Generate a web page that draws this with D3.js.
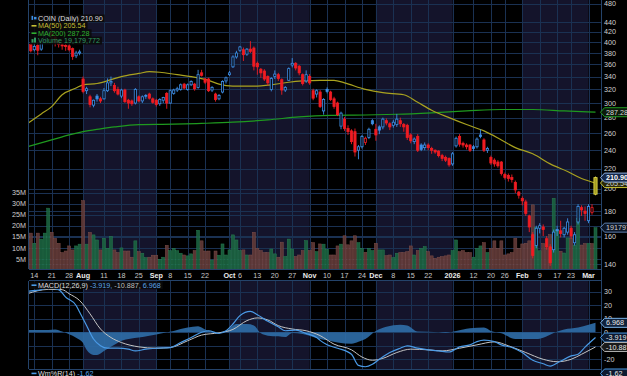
<!DOCTYPE html>
<html>
<head>
<meta charset="utf-8">
<script src="https://cdn.jsdelivr.net/npm/d3@7"></script>
<style>
  body { margin: 0; background: #000; }
  svg { display: block; font-family: "Liberation Sans", Arial, sans-serif; }
</style>
</head>
<body>
<div id="chart"></div>
<script>
const width = 627
const height = 376

// trading calendar shown on the chart
const firstDay = "2025-07-10"
const lastDay = "2026-03-04"
const holidays = ["2025-09-01", "2025-11-27", "2025-12-25", "2026-01-01", "2026-01-19", "2026-02-16"]

// COIN daily candles, one value per trading day, grouped by week
const opens = [
  380, 396,
  386, 394, 387, 403, 418,   418, 410, 402, 395, 394,   393, 388, 375, 380, 336,
  318, 309, 297, 310, 306,   306, 318, 330, 326, 320,   310, 319, 304, 303, 300,
  309, 303, 311, 313, 306,   304, 299, 304, 314,        300, 314, 319, 320, 328,
  320, 327, 328, 323, 346,   336, 336, 319, 313, 306,   316, 333, 343, 356, 373,
  385, 386, 378, 387, 389,   362, 352, 349, 340, 320,   340, 343, 335, 319, 334,
  359, 362, 357, 343, 333,   340, 318, 313, 316, 289,   320, 316, 306, 300, 269,
  278, 266, 263, 262, 240,   244, 249, 255, 276,        265, 268, 268, 276, 272,
  270, 271, 276, 271, 270,   258, 250, 256, 246, 243,   246, 242, 240, 239,
  234, 232, 231, 225,        245, 256, 248, 246, 246,   244, 244, 258, 252, 240,
  232, 229, 227, 227,        214, 213, 211, 206, 197,   191, 188, 176, 161, 153,
  166, 167, 158, 152, 150,   165, 164, 161, 163,        166, 155, 171, 183, 180,
  172, 179, 195
]
const highs = [
  395, 398,
  398, 400, 405, 420, 444,   425, 413, 404, 398, 397,   396, 390, 384, 386, 340,
  324, 312, 305, 313, 309,   322, 337, 340, 330, 324,   321, 321, 306, 305, 322,
  311, 311, 313, 315, 308,   306, 307, 309, 316,        320, 321, 324, 329, 330,
  329, 334, 330, 351, 351,   338, 338, 325, 315, 313,   334, 340, 349, 376, 384,
  393, 390, 389, 402, 392,   365, 354, 352, 342, 339,   350, 346, 337, 325, 355,
  371, 364, 359, 345, 350,   344, 321, 320, 319, 307,   323, 318, 309, 302, 288,
  281, 270, 265, 266, 246,   258, 256, 267, 278,        272, 270, 280, 279, 274,
  277, 285, 280, 273, 272,   260, 255, 259, 248, 249,   248, 244, 241, 240,
  236, 234, 232, 238,        256, 259, 250, 248, 247,   246, 255, 265, 254, 244,
  234, 231, 229, 228,        216, 215, 214, 208, 198,   193, 190, 177, 163, 168,
  170, 169, 160, 154, 165,   168, 172, 167, 174,        168, 163, 186, 185, 184,
  186, 186, 212
]
const lows = [
  372, 381,
  383, 376, 384, 400, 410,   405, 392, 390, 386, 384,   383, 368, 371, 376, 314,
  313, 294, 294, 302, 300,   305, 316, 325, 315, 311,   307, 300, 292, 296, 298,
  301, 300, 306, 305, 299,   295, 296, 300, 292,        299, 312, 316, 318, 320,
  318, 325, 318, 321, 340,   328, 316, 316, 302, 304,   314, 329, 341, 354, 370,
  382, 366, 375, 380, 350,   343, 338, 333, 326, 317,   336, 333, 312, 316, 333,
  355, 350, 342, 326, 330,   327, 304, 308, 293, 284,   314, 303, 292, 282, 265,
  263, 258, 247, 233, 230,   242, 246, 253, 270,        251, 259, 265, 270, 264,
  267, 268, 268, 262, 252,   248, 247, 238, 239, 240,   240, 236, 236, 232,
  228, 227, 222, 223,        243, 244, 243, 241, 238,   239, 242, 254, 238, 237,
  224, 222, 221, 213,        209, 207, 206, 196, 191,   185, 176, 163, 144, 151,
  162, 160, 150, 139, 148,   160, 159, 159, 161,        158, 153, 169, 176, 172,
  170, 177, 194
]
const closes = [
  392, 384,
  392, 385, 402, 414, 420,   412, 400, 396, 393, 392,   386, 374, 380, 382, 317,
  321, 298, 304, 306, 303,   318, 330, 332, 318, 313,   319, 302, 300, 299, 320,
  303, 309, 310, 307, 301,   298, 305, 308, 300,        318, 319, 321, 327, 322,
  327, 332, 321, 343, 342,   331, 318, 323, 305, 311,   332, 338, 346, 373, 380,
  391, 377, 387, 383, 357,   356, 346, 336, 330, 337,   344, 337, 319, 323, 353,
  362, 354, 346, 329, 343,   330, 307, 318, 295, 305,   317, 305, 295, 284, 286,
  266, 262, 250, 238, 244,   256, 254, 265, 272,        258, 264, 278, 273, 268,
  274, 278, 272, 268, 255,   251, 253, 240, 241, 246,   243, 240, 238, 234,
  231, 229, 224, 236,        254, 247, 246, 244, 240,   242, 253, 256, 240, 242,
  226, 225, 223, 215,        211, 210, 209, 199, 194,   189, 178, 167, 146, 166,
  168, 165, 152, 141, 163,   164, 162, 166, 171,        160, 161, 184, 181, 178,
  184, 183, 210.9
]
// volume in millions of shares
const volumes = [
  17, 16.7,
  12.1, 16.7, 14, 16.7, 28,     17.1, 14.4, 12.1, 7.9, 8.6,   10.9, 9.1, 10.9, 11.7, 31.4,
  11.7, 17, 15.9, 13.6, 9.1,    14.4, 9.8, 15.2, 9.1, 7.9,    10, 8.6, 8.6, 5.8, 13.2,
  8.3, 7.6, 5.6, 5.8, 6.7,      6.7, 4.8, 5.8, 11.2,          8.8, 9.8, 8.8, 7.6, 6.8,
  6.4, 7.3, 8.8, 18, 13.2,      8.6, 8.6, 4.5, 8.6, 6.7,      11.8, 6.8, 9.1, 15.9, 13.6,
  8.8, 9.1, 6.8, 6.8, 17.1,     9.8, 8.8, 7.9, 7.9, 9.5,      7.3, 5.8, 12.6, 6.1, 14,
  9.5, 6.1, 6.8, 8.8, 13.3,     8.8, 12.4, 8.3, 11.8, 11.7,   9.4, 6.8, 6.8, 10.9, 11.7,
  15.5, 11.4, 13.2, 15.5, 12.4, 9.8, 8, 9.8, 8.8,             12.1, 9.1, 9.1, 6.5, 6.8,
  5.6, 7.6, 7.9, 7.9, 8.3,      10.9, 6.8, 8.8, 9.8, 10.6,    8.3, 6.4, 5.3, 5.8,
  6.1, 6.4, 6.8, 8.8,           13.6, 8.3, 8.8, 7.9, 7.9,     5.8, 9.8, 10.9, 12.4, 7.9,
  9.8, 13.2, 9.8, 13.2,         6.8, 7.3, 7.9, 14.4, 9.8,     11.8, 12.1, 13.2, 29.5, 19.3,
  8.7, 12, 10, 16, 32.5,        18, 8.5, 7.7, 14.5,           14.5, 11.3, 23.4, 11.3, 12,
  12, 12, 19.18
]

// moving averages and MACD, read at points along the lines
const ma50 = [
  ["2025-07-10", 272], ["2025-07-16", 285], ["2025-07-21", 295], ["2025-07-24", 312], ["2025-07-30", 322],
  ["2025-08-01", 327], ["2025-08-07", 329], ["2025-08-13", 335], ["2025-08-18", 340], ["2025-08-25", 345],
  ["2025-08-28", 348], ["2025-09-03", 347], ["2025-09-10", 343], ["2025-09-16", 340], ["2025-09-23", 334],
  ["2025-09-26", 328], ["2025-10-02", 325], ["2025-10-10", 325], ["2025-10-17", 327], ["2025-10-24", 331],
  ["2025-10-30", 333], ["2025-11-06", 334], ["2025-11-12", 334], ["2025-11-17", 330], ["2025-11-25", 320],
  ["2025-12-03", 315], ["2025-12-11", 312], ["2025-12-17", 301], ["2025-12-23", 290], ["2025-12-31", 280],
  ["2026-01-08", 271], ["2026-01-15", 263], ["2026-01-23", 252], ["2026-01-29", 243], ["2026-02-05", 236],
  ["2026-02-12", 225], ["2026-02-20", 217], ["2026-02-26", 210], ["2026-03-04", 205.54]
]
const ma200 = [
  ["2025-07-10", 244], ["2025-07-21", 252], ["2025-07-28", 258], ["2025-08-01", 262], ["2025-08-08", 265.5],
  ["2025-08-14", 268], ["2025-08-25", 271], ["2025-09-09", 271.5], ["2025-09-19", 272.5], ["2025-10-02", 274],
  ["2025-10-16", 277], ["2025-10-29", 281], ["2025-11-11", 283], ["2025-11-25", 283.5], ["2025-12-09", 284.5],
  ["2025-12-23", 286.5], ["2026-01-08", 289], ["2026-01-23", 291], ["2026-02-05", 291], ["2026-02-19", 289],
  ["2026-03-04", 287.28]
]
const macd = [
  ["2025-07-10", 30.4], ["2025-07-16", 31.5], ["2025-07-18", 33], ["2025-07-23", 31.5], ["2025-07-25", 26],
  ["2025-07-30", 19.8], ["2025-07-31", 15], ["2025-08-04", 5], ["2025-08-06", -5], ["2025-08-08", -10],
  ["2025-08-12", -11.8], ["2025-08-15", -11.8], ["2025-08-20", -12.5], ["2025-08-22", -13.8], ["2025-08-27", -12.5],
  ["2025-09-02", -11.8], ["2025-09-08", -11.3], ["2025-09-11", -7.6], ["2025-09-16", -3.9], ["2025-09-19", 0],
  ["2025-09-23", 1.1], ["2025-09-26", -0.9], ["2025-09-30", 1.1], ["2025-10-02", 6.1], ["2025-10-06", 12.3],
  ["2025-10-09", 15.5], ["2025-10-13", 13], ["2025-10-16", 8.1], ["2025-10-21", 4.1], ["2025-10-23", 1.1],
  ["2025-10-28", 1.6], ["2025-10-31", -0.9], ["2025-11-05", -3.9], ["2025-11-06", -6], ["2025-11-10", -9.3],
  ["2025-11-13", -11.8], ["2025-11-19", -16.3], ["2025-11-21", -24.5], ["2025-11-25", -25.5], ["2025-11-28", -23.7],
  ["2025-12-02", -20], ["2025-12-05", -15], ["2025-12-10", -11.8], ["2025-12-12", -10], ["2025-12-17", -11.8],
  ["2025-12-22", -13], ["2025-12-26", -13.8], ["2025-12-31", -14.6], ["2026-01-06", -10.8], ["2026-01-09", -9.3],
  ["2026-01-13", -6.9], ["2026-01-15", -5.8], ["2026-01-21", -6.9], ["2026-01-23", -9.3], ["2026-01-28", -11.3],
  ["2026-02-02", -15], ["2026-02-05", -20.7], ["2026-02-10", -23.3], ["2026-02-12", -25], ["2026-02-18", -21.3],
  ["2026-02-23", -17.5], ["2026-02-25", -16.3], ["2026-02-27", -11], ["2026-03-04", -3.919]
]
const signal = [
  ["2025-07-10", 28.5], ["2025-07-18", 31.7], ["2025-07-24", 31.5], ["2025-07-28", 28.5], ["2025-07-31", 23.5],
  ["2025-08-05", 13.6], ["2025-08-08", 2.4], ["2025-08-13", -3.9], ["2025-08-18", -7.6], ["2025-08-25", -10.8],
  ["2025-09-02", -11.8], ["2025-09-08", -11.3], ["2025-09-15", -6.3], ["2025-09-19", -2.1], ["2025-09-26", -0.4],
  ["2025-10-02", 2.1], ["2025-10-08", 8.6], ["2025-10-13", 10.6], ["2025-10-16", 9.1], ["2025-10-21", 4.9],
  ["2025-10-27", 2.4], ["2025-10-31", 1.1], ["2025-11-06", -2.5], ["2025-11-12", -8.8], ["2025-11-19", -13],
  ["2025-11-24", -18.3], ["2025-11-28", -20.7], ["2025-12-03", -19.3], ["2025-12-09", -15], ["2025-12-15", -12.5],
  ["2025-12-22", -13], ["2025-12-29", -13.8], ["2026-01-06", -11.8], ["2026-01-13", -9.3], ["2026-01-21", -7.1],
  ["2026-01-27", -10], ["2026-02-03", -15], ["2026-02-10", -20], ["2026-02-17", -21.8], ["2026-02-23", -20],
  ["2026-02-26", -16.3], ["2026-03-04", -10.887]
]
const histogram = [
  ["2025-07-10", 1.6], ["2025-07-18", 1.6], ["2025-07-22", 2], ["2025-07-24", 0.5], ["2025-07-28", -1.5],
  ["2025-07-30", -4], ["2025-08-01", -8], ["2025-08-04", -13], ["2025-08-06", -16.8], ["2025-08-07", -16.8],
  ["2025-08-11", -13.8], ["2025-08-14", -9.3], ["2025-08-18", -6.2], ["2025-08-25", -3.9], ["2025-08-28", -2.6],
  ["2025-09-04", -0.5], ["2025-09-09", 1], ["2025-09-15", 3.5], ["2025-09-18", 4.4], ["2025-09-22", 2],
  ["2025-09-25", 0], ["2025-09-30", 1], ["2025-10-03", 6.1], ["2025-10-08", 6.1], ["2025-10-10", 5],
  ["2025-10-14", -0.8], ["2025-10-16", -2.5], ["2025-10-21", -3], ["2025-10-23", -3.5], ["2025-10-27", -0.5],
  ["2025-10-30", -1.3], ["2025-11-04", -3.5], ["2025-11-06", -5], ["2025-11-10", -6], ["2025-11-13", -7.6],
  ["2025-11-19", -8.5], ["2025-11-21", -7], ["2025-11-25", -5], ["2025-12-01", 1], ["2025-12-04", 4],
  ["2025-12-10", 5.5], ["2025-12-12", 5], ["2025-12-17", 0.5], ["2025-12-26", 0], ["2025-12-30", -0.5],
  ["2026-01-05", 1], ["2026-01-09", 3], ["2026-01-15", 3.5], ["2026-01-20", 1], ["2026-01-23", -0.8],
  ["2026-01-29", -5], ["2026-02-06", -5], ["2026-02-10", -4], ["2026-02-13", -0.5], ["2026-02-19", 2],
  ["2026-02-25", 3.5], ["2026-03-02", 5.5], ["2026-03-04", 6.968]
]

// axis ticks
const tickDates = ["2025-07-14", "2025-07-21", "2025-07-28", "2025-08-01", "2025-08-11", "2025-08-18", "2025-08-25",
  "2025-09-02", "2025-09-08", "2025-09-15", "2025-09-22", "2025-10-01", "2025-10-06", "2025-10-13", "2025-10-20",
  "2025-10-27", "2025-11-03", "2025-11-10", "2025-11-17", "2025-11-24", "2025-12-01", "2025-12-08", "2025-12-15",
  "2025-12-22", "2026-01-02", "2026-01-12", "2026-01-20", "2026-01-26", "2026-02-02", "2026-02-09", "2026-02-17",
  "2026-02-23", "2026-03-02"]
const tickLabels = ["14", "21", "28", "Aug", "11", "18", "25", "Sep", "8", "15", "22", "Oct", "6", "13", "20", "27",
  "Nov", "10", "17", "24", "Dec", "8", "15", "22", "2026", "12", "20", "26", "Feb", "9", "17", "23", "Mar"]
const shadedMonths = [["2025-08-01", "2025-09-02"], ["2025-10-01", "2025-11-03"], ["2025-12-01", "2026-01-02"], ["2026-02-02", "2026-03-02"]]
const priceTicks = [140, 160, 180, 200, 220, 240, 260, 280, 300, 320, 340, 360, 380, 400, 420, 440, 480]
const volumeTicks = [5, 10, 15, 20, 25, 30, 35]
const macdTicks = [-20, -10, 0, 10, 20, 30]
const macdTickLabels = ["-20", "", "0", "10", "20", "30"]

const fmt = d3.utcFormat("%Y-%m-%d")
const days = d3.utcDay.range(new Date(firstDay + "T00:00Z"), new Date(lastDay + "T12:00Z"))
  .filter(d => d.getUTCDay() !== 0 && d.getUTCDay() !== 6 && !holidays.includes(fmt(d)))
  .map(fmt)

const plot = { left: 29, right: 601, top: 0, bottom: 269, macdTop: 281, macdBottom: 369 }
const gridColor = "#1a3152"
const blue = "#3d8fe6"
const red = "#f01c22"

const x = d3.scalePoint().domain(days).range([27.3, 595.5])
const y = d3.scaleLog().domain([140, 440]).range([264.3, 22])
const yVol = d3.scaleLinear().domain([0, 35]).range([270, 192.7])
const yMacd = d3.scaleLinear().domain([-20, 30]).range([359.3, 291.7])

const svg = d3.select("#chart").append("svg")
  .attr("width", width)
  .attr("height", height)
svg.append("rect").attr("width", width).attr("height", height).attr("fill", "#000")

const defs = svg.append("defs")
defs.append("clipPath").attr("id", "clipMain").append("rect")
  .attr("x", plot.left).attr("y", plot.top).attr("width", plot.right - plot.left).attr("height", plot.bottom - plot.top)
defs.append("clipPath").attr("id", "clipMacd").append("rect")
  .attr("x", plot.left).attr("y", plot.macdTop).attr("width", plot.right - plot.left).attr("height", plot.macdBottom - plot.macdTop)

// month shading in both panels
let shadeGroup = svg.append("g")
for (const [top, bottom] of [[plot.top, plot.bottom], [plot.macdTop, plot.macdBottom]]) {
  shadeGroup.append("g").selectAll("rect").data(shadedMonths).join("rect")
    .attr("x", d => x(d[0]))
    .attr("width", d => x(d[1]) - x(d[0]))
    .attr("y", top).attr("height", bottom - top)
    .attr("fill", "#14142b")
}

// grid
let gridGroup = svg.append("g").attr("stroke", gridColor).attr("stroke-width", 1)
gridGroup.selectAll(".vgrid").data(tickDates).join("path")
  .attr("d", d => {
    const px = Math.round(x(d)) + 0.5
    return `M${px},${plot.top}V${plot.bottom}M${px},${plot.macdTop}V${plot.macdBottom}`
  })
gridGroup.selectAll(".pgrid").data(priceTicks).join("line")
  .attr("x1", plot.left).attr("x2", plot.right)
  .attr("y1", d => Math.round(y(d)) + 0.5).attr("y2", d => Math.round(y(d)) + 0.5)
gridGroup.selectAll(".vol").data(volumeTicks).join("line")
  .attr("x1", plot.left).attr("x2", plot.right)
  .attr("y1", d => Math.round(yVol(d)) + 0.5).attr("y2", d => Math.round(yVol(d)) + 0.5)
gridGroup.selectAll(".mgrid").data(macdTicks).join("line")
  .attr("x1", plot.left).attr("x2", plot.right)
  .attr("y1", d => Math.round(yMacd(d)) + 0.5).attr("y2", d => Math.round(yMacd(d)) + 0.5)

// panel borders
svg.append("path")
  .attr("d", `M${plot.left - 0.5},0V${plot.bottom}M${plot.left - 0.5},${plot.macdTop}V${plot.macdBottom}M${plot.right + 0.5},0V${height}` +
    `M${plot.left},${plot.bottom + 0.5}H${plot.right}M${plot.left},${plot.macdTop - 0.5}H${plot.right}M${plot.left},${plot.macdBottom + 0.5}H${plot.right}`)
  .attr("stroke", "#24436a").attr("fill", "none")

const bars = days.map((d, i) => ({
  d, o: opens[i], h: highs[i], l: lows[i], c: closes[i], v: volumes[i],
  up: closes[i] >= (i ? closes[i - 1] : opens[i]),
  last: i === days.length - 1
}))

// volume
let mainGroup = svg.append("g").attr("clip-path", "url(#clipMain)")
mainGroup.append("g").selectAll("rect").data(bars).join("rect")
  .attr("x", d => x(d.d) - 1.5)
  .attr("width", 3)
  .attr("y", d => yVol(d.v))
  .attr("height", d => yVol(0) - yVol(d.v))
  .attr("fill", d => d.up ? "#1b6441" : "#623a38")
  .attr("stroke", d => d.up ? "#2b8656" : "#87544f")
  .attr("stroke-width", 0.5)
  .attr("opacity", 0.9)

// moving averages
const line = d3.line().x(d => x(d[0])).y(d => y(d[1])).curve(d3.curveMonotoneX)
mainGroup.append("path").attr("d", line(ma200)).attr("fill", "none").attr("stroke", "#1f9a1f").attr("stroke-width", 1.2)
mainGroup.append("path").attr("d", line(ma50)).attr("fill", "none").attr("stroke", "#a9a21f").attr("stroke-width", 1.2)

// candles
const candleGroup = mainGroup.append("g")
candleGroup.selectAll("line").data(bars).join("line")
  .attr("x1", d => x(d.d)).attr("x2", d => x(d.d))
  .attr("y1", d => y(d.h)).attr("y2", d => y(d.l))
  .attr("stroke", d => d.last ? "#e0d848" : d.up ? blue : red)
  .attr("stroke-width", 0.9)
candleGroup.selectAll("rect").data(bars).join("rect")
  .attr("x", d => x(d.d) - (d.last ? 1.6 : 1.1))
  .attr("width", d => d.last ? 3.2 : 2.2)
  .attr("y", d => y(Math.max(d.o, d.c)))
  .attr("height", d => Math.max(0.8, y(Math.min(d.o, d.c)) - y(Math.max(d.o, d.c))))
  .attr("fill", d => d.last ? "#a39c22" : d.c > d.o ? "#08080f" : (d.up ? blue : red))
  .attr("stroke", d => d.last ? "#e6dc4a" : d.up ? blue : red)
  .attr("stroke-width", 0.8)

// MACD panel
let macdGroup = svg.append("g").attr("clip-path", "url(#clipMacd)")
const histArea = d3.area().x(d => x(d[0])).y0(yMacd(0)).y1(d => yMacd(d[1])).curve(d3.curveMonotoneX)
macdGroup.append("path").attr("d", histArea(histogram)).attr("fill", "#2f6ea9").attr("opacity", 0.9)
const mline = d3.line().x(d => x(d[0])).y(d => yMacd(d[1])).curve(d3.curveMonotoneX)
macdGroup.append("path").attr("d", mline(signal)).attr("fill", "none").attr("stroke", "#c4c4c4").attr("stroke-width", 1)
macdGroup.append("path").attr("d", mline(macd)).attr("fill", "none").attr("stroke", "#4a9ae6").attr("stroke-width", 1.2)

// axis labels
const axisText = svg.append("g").attr("font-size", 7.2).attr("fill", "#d0d0d0")
axisText.selectAll(".p").data(priceTicks).join("text")
  .attr("x", 604).attr("y", d => y(d) + 2.6).text(d => d)
axisText.selectAll(".v").data(volumeTicks).join("text")
  .attr("x", 26).attr("y", d => yVol(d) + 2.6).attr("text-anchor", "end").text(d => d + "M")
axisText.selectAll(".m").data(macdTicks).join("text")
  .attr("x", 604).attr("y", d => yMacd(d) + 2.6).text((d, i) => macdTickLabels[i])
svg.append("g").attr("font-size", 7.2).selectAll("text").data(tickDates).join("text")
  .attr("x", d => x(d)).attr("y", 277.8).attr("text-anchor", "middle")
  .attr("font-weight", (d, i) => isNaN(+tickLabels[i]) || tickLabels[i] === "2026" ? "bold" : "normal")
  .attr("fill", (d, i) => isNaN(+tickLabels[i]) || tickLabels[i] === "2026" ? "#ececec" : "#c8c8c8")
  .text((d, i) => tickLabels[i])

// price tags on the right axis
function tag(yPos, label, stroke, fill, color, bold) {
  const g = svg.append("g").attr("transform", `translate(600,${yPos})`)
  g.append("path").attr("d", "M0.5,0L4.5,-4.5H628V4.5H4.5Z").attr("fill", fill).attr("stroke", stroke)
  g.append("text").attr("x", 6).attr("y", 2.6).attr("font-size", 7.2)
    .attr("font-weight", bold ? "bold" : "normal").attr("fill", color).text(label)
}
tag(y(287.28), "287.28", "#219a21", "#0b1a0b", "#d8d8d8", false)
tag(y(205.54), "205.54", "#c9c232", "#2a2808", "#d8d8d8", false)
tag(y(210.9), "210.90", "#8fb0e0", "#16284a", "#ffffff", true)
tag(yVol(19.18), "191797", "#5d7fae", "#0d1626", "#d0d0d0", false)
tag(yMacd(6.968), "6.968", "#7ab4ea", "#10223c", "#e8e8e8", false)
tag(yMacd(-3.919), "-3.919", "#4a9ae6", "#0d1a30", "#e8e8e8", false)
tag(yMacd(-10.887), "-10.887", "#b0b0b0", "#1a1a1a", "#e8e8e8", false)
tag(373.5, "-1.62", "#4a9ae6", "#0d1a30", "#e8e8e8", false)

// legends
function legend(rows, x0, y0) {
  const g = svg.append("g").attr("font-size", 7.2)
  rows.forEach((r, i) => {
    const yy = y0 + i * 7.4
    const row = g.append("g")
    const bg = row.append("rect").attr("fill", "#0a0a0a").attr("opacity", 0.88)
    const t = row.append("text").attr("x", x0 + 8).attr("y", yy + 2.6).attr("fill", r[1]).text(r[0])
    const w = t.node().getComputedTextLength()
    bg.attr("x", x0).attr("y", yy - 3.9).attr("width", w + 10).attr("height", 7.8)
    if (r[2] === "candle") {
      row.append("rect").attr("x", x0 + 1.5).attr("y", yy - 2.5).attr("width", 1.6).attr("height", 4).attr("fill", blue)
      row.append("rect").attr("x", x0 + 4).attr("y", yy - 1.5).attr("width", 2.5).attr("height", 2.5).attr("fill", blue)
    } else if (r[2] === "bars") {
      row.append("rect").attr("x", x0 + 1.5).attr("y", yy - 1.5).attr("width", 2).attr("height", 3.5).attr("fill", r[1])
      row.append("rect").attr("x", x0 + 4).attr("y", yy - 3).attr("width", 2).attr("height", 5).attr("fill", r[1])
    } else {
      row.append("rect").attr("x", x0 + 1.5).attr("y", yy - 0.8).attr("width", 5).attr("height", 1.6).attr("fill", r[1])
    }
  })
  return g
}
legend([
  ["COIN (Daily) 210.90", "#dedede", "candle"],
  ["MA(50) 205.54", "#c6bf34", "line"],
  ["MA(200) 287.28", "#2fb02f", "line"],
  ["Volume 19,179,772", "#2f9a62", "bars"]
], 30, 18.4)

const macdLegend = svg.append("g").attr("font-size", 7.2)
const mlBg = macdLegend.append("rect").attr("fill", "#0a0a0a").attr("opacity", 0.88)
macdLegend.append("rect").attr("x", 31.5).attr("y", 284.4).attr("width", 5).attr("height", 1.6).attr("fill", "#4a9ae6")
const mlText = macdLegend.append("text").attr("x", 38).attr("y", 287.8)
mlText.append("tspan").attr("fill", "#dedede").text("MACD(12,26,9) ")
mlText.append("tspan").attr("fill", "#5aa2e8").text("-3.919, ")
mlText.append("tspan").attr("fill", "#bdbdbd").text("-10.887, ")
mlText.append("tspan").attr("fill", "#5aa2e8").text("6.968")
mlBg.attr("x", 30).attr("y", 281.3).attr("width", mlText.node().getComputedTextLength() + 10).attr("height", 7.8)

const wmText = svg.append("text").attr("x", 38).attr("y", 376.2).attr("font-size", 7.2).attr("fill", "#5aa2e8")
wmText.append("tspan").attr("fill", "#dedede").text("Wm%R(14) ")
wmText.append("tspan").text("-1.62")
svg.append("rect").attr("x", 31.5).attr("y", 372.6).attr("width", 5).attr("height", 1.6).attr("fill", "#4a9ae6")
</script>
</body>
</html>
